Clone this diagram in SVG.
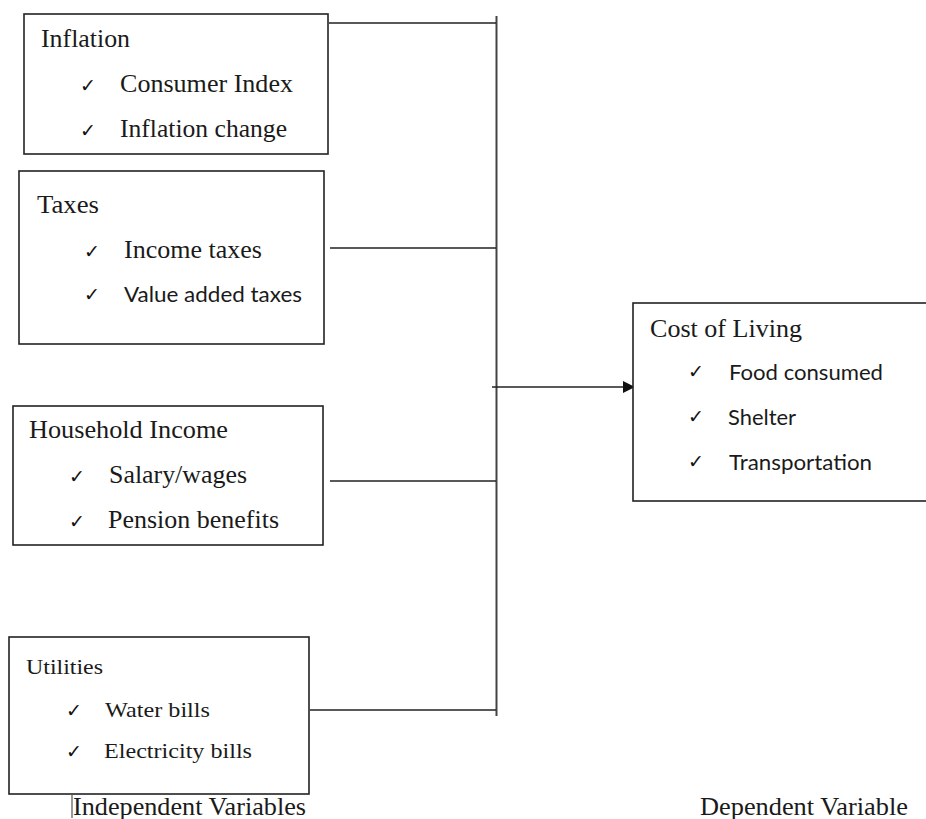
<svg xmlns="http://www.w3.org/2000/svg" width="926" height="819" viewBox="0 0 926 819">
<style>
.box{fill:#fff;stroke:#222;stroke-width:1.6}
.ln{stroke:#222;stroke-width:1.6;fill:none}
.vl{stroke:#444;stroke-width:2;fill:none}
.s{font-family:"Liberation Serif","Times New Roman",serif;font-size:25px;fill:#1a1a1a}
.u{font-family:"Liberation Serif","Times New Roman",serif;font-size:22px;fill:#1a1a1a}
.c{font-family:Lato,"Liberation Sans",sans-serif;font-size:22px;fill:#1a1a1a}
.k{font-family:"DejaVu Sans",sans-serif;font-size:19px;fill:#111}
</style>
<defs>
<marker id="arr" markerWidth="12" markerHeight="12" refX="12" refY="6" orient="auto" markerUnits="userSpaceOnUse">
<path d="M0,0 L12,6 L0,12 Z" fill="#111"/>
</marker>
</defs>
<g id="connectors">
<line class="vl" x1="496.5" y1="16" x2="496.5" y2="716"/>
<line class="ln" x1="329" y1="23" x2="496" y2="23"/>
<line class="ln" x1="330" y1="248" x2="496" y2="248"/>
<line class="ln" x1="330" y1="481" x2="496" y2="481"/>
<line class="ln" x1="310" y1="710" x2="496" y2="710"/>
<line class="ln" x1="492" y1="387" x2="635" y2="387" marker-end="url(#arr)"/>
</g>
<g id="inflation">
<rect class="box" x="24" y="14" width="304" height="140"/>
<text class="s" x="41" y="47" textLength="89" lengthAdjust="spacingAndGlyphs">Inflation</text>
<text class="k" x="80" y="92">✓</text>
<text class="s" x="120" y="92" textLength="173" lengthAdjust="spacingAndGlyphs">Consumer Index</text>
<text class="k" x="80" y="137">✓</text>
<text class="s" x="120" y="137" textLength="167" lengthAdjust="spacingAndGlyphs">Inflation change</text>
</g>
<g id="taxes">
<rect class="box" x="19" y="171" width="305" height="173"/>
<text class="s" x="37" y="213" textLength="62" lengthAdjust="spacingAndGlyphs">Taxes</text>
<text class="k" x="84" y="258">✓</text>
<text class="s" x="124" y="258" textLength="138" lengthAdjust="spacingAndGlyphs">Income taxes</text>
<text class="k" x="84" y="301">✓</text>
<text class="c" x="124" y="302" textLength="178" lengthAdjust="spacingAndGlyphs">Value added taxes</text>
</g>
<g id="household">
<rect class="box" x="13" y="406" width="310" height="139"/>
<text class="s" x="29" y="438" textLength="199" lengthAdjust="spacingAndGlyphs">Household Income</text>
<text class="k" x="69" y="483">✓</text>
<text class="s" x="109" y="483" textLength="138" lengthAdjust="spacingAndGlyphs">Salary/wages</text>
<text class="k" x="69" y="528">✓</text>
<text class="s" x="108" y="528" textLength="171" lengthAdjust="spacingAndGlyphs">Pension benefits</text>
</g>
<g id="utilities">
<rect class="box" x="9" y="637" width="300" height="157"/>
<text class="u" x="26" y="674" textLength="77" lengthAdjust="spacingAndGlyphs">Utilities</text>
<text class="k" x="66" y="717">✓</text>
<text class="u" x="105" y="717" textLength="105" lengthAdjust="spacingAndGlyphs">Water bills</text>
<text class="k" x="66" y="758">✓</text>
<text class="u" x="104" y="758" textLength="148" lengthAdjust="spacingAndGlyphs">Electricity bills</text>
</g>
<g id="cost">
<rect class="box" x="633" y="303" width="300" height="198"/>
<text class="s" x="650" y="337" textLength="152" lengthAdjust="spacingAndGlyphs">Cost of Living</text>
<text class="k" x="688" y="378">✓</text>
<text class="c" x="729" y="380" textLength="154" lengthAdjust="spacingAndGlyphs">Food consumed</text>
<text class="k" x="688" y="423">✓</text>
<text class="c" x="728" y="425" textLength="68" lengthAdjust="spacingAndGlyphs">Shelter</text>
<text class="k" x="688" y="468">✓</text>
<text class="c" x="729" y="470" textLength="143" lengthAdjust="spacingAndGlyphs">Transportation</text>
</g>
<g id="labels">
<line x1="72" y1="794" x2="72" y2="818" stroke="#555" stroke-width="1.2"/>
<text class="s" x="73" y="815" textLength="233" lengthAdjust="spacingAndGlyphs">Independent Variables</text>
<text class="s" x="700" y="815" textLength="208" lengthAdjust="spacingAndGlyphs">Dependent Variable</text>
</g>
</svg>
